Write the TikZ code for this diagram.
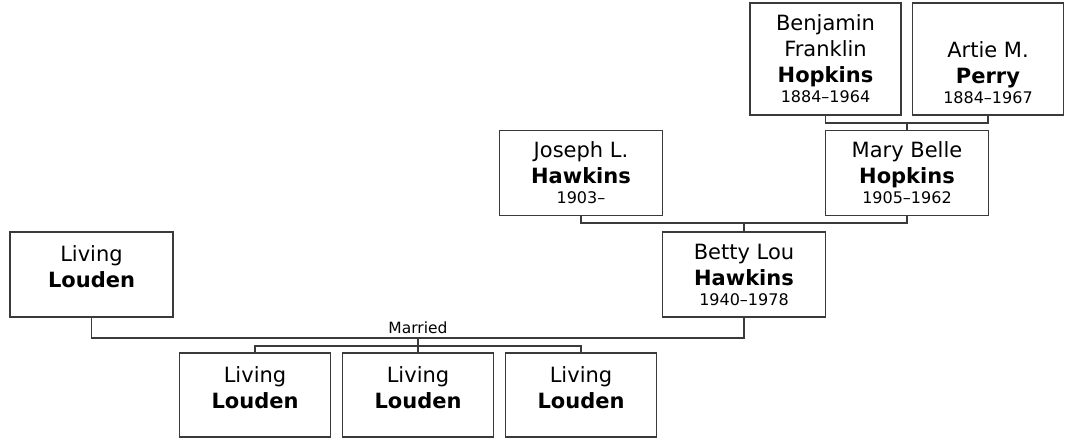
\documentclass[tikz,border=0pt]{standalone}
\usepackage{fontspec}
\setmainfont{DejaVu Sans}
\usetikzlibrary{positioning}
\definecolor{treeline}{HTML}{3A3A3A}

\newcommand{\yrs}[1]{{\fontsize{16}{18}\selectfont #1}}

\begin{document}
\begin{tikzpicture}[
  x=1pt, y=-1pt,
  font=\fontsize{21}{26}\selectfont,
  person/.style={draw=treeline, line width=1.2pt, align=center, inner sep=0pt, minimum width=163pt, minimum height=85pt},
  tall/.style={person, minimum width=151pt, minimum height=112pt},
  child/.style={person, minimum width=151pt, minimum height=84pt},
  link/.style={treeline, line width=1.2pt}
]
\useasboundingbox (0,0) rectangle (1066,439);

\node[tall] (benjamin) at (825.5,59) {Benjamin\\Franklin\\\textbf{Hopkins}\\[-6pt]\yrs{1884--1964}};
\node[tall] (artie) at (988,59) {\strut\\Artie M.\\\textbf{Perry}\\[-6pt]\yrs{1884--1967}};

\node[person] (joseph) at (581,173) {Joseph L.\\\textbf{Hawkins}\\[-6pt]\yrs{1903--}};
\node[person] (mary) at (907,173) {Mary Belle\\\textbf{Hopkins}\\[-6pt]\yrs{1905--1962}};

\node[person] (spouse) at (91.5,274.5) {Living\\\textbf{Louden}\\[-16pt]\yrs{\strut}};
\node[person] (betty) at (744,274.5) {Betty Lou\\\textbf{Hawkins}\\[-6pt]\yrs{1940--1978}};

\node[child] (kid1) at (255,395) {Living\\\textbf{Louden}\\[-16pt]\yrs{\strut}};
\node[child] (kid2) at (418,395) {Living\\\textbf{Louden}\\[-16pt]\yrs{\strut}};
\node[child] (kid3) at (581,395) {Living\\\textbf{Louden}\\[-16pt]\yrs{\strut}};

\coordinate (hp) at (907,123);
\draw[link] (benjamin.south) |- (hp) -| (artie.south);
\draw[link] (hp) -- (mary.north);

\coordinate (hh) at (744,223);
\draw[link] (joseph.south) |- (hh) -| (mary.south);
\draw[link] (hh) -- (betty.north);

\coordinate (married) at (418,338);
\draw[link] (spouse.south) |- (married) -| (betty.south);
\node[above=3pt, inner sep=1pt, font=\fontsize{15.5}{18}\selectfont] (mlabel) at (married) {Married};

\coordinate (kids) at (418,346);
\draw[link] (kid1.north) |- (kids) -| (kid3.north);
\draw[link] (married) -- (kid2.north);

\end{tikzpicture}
\end{document}
